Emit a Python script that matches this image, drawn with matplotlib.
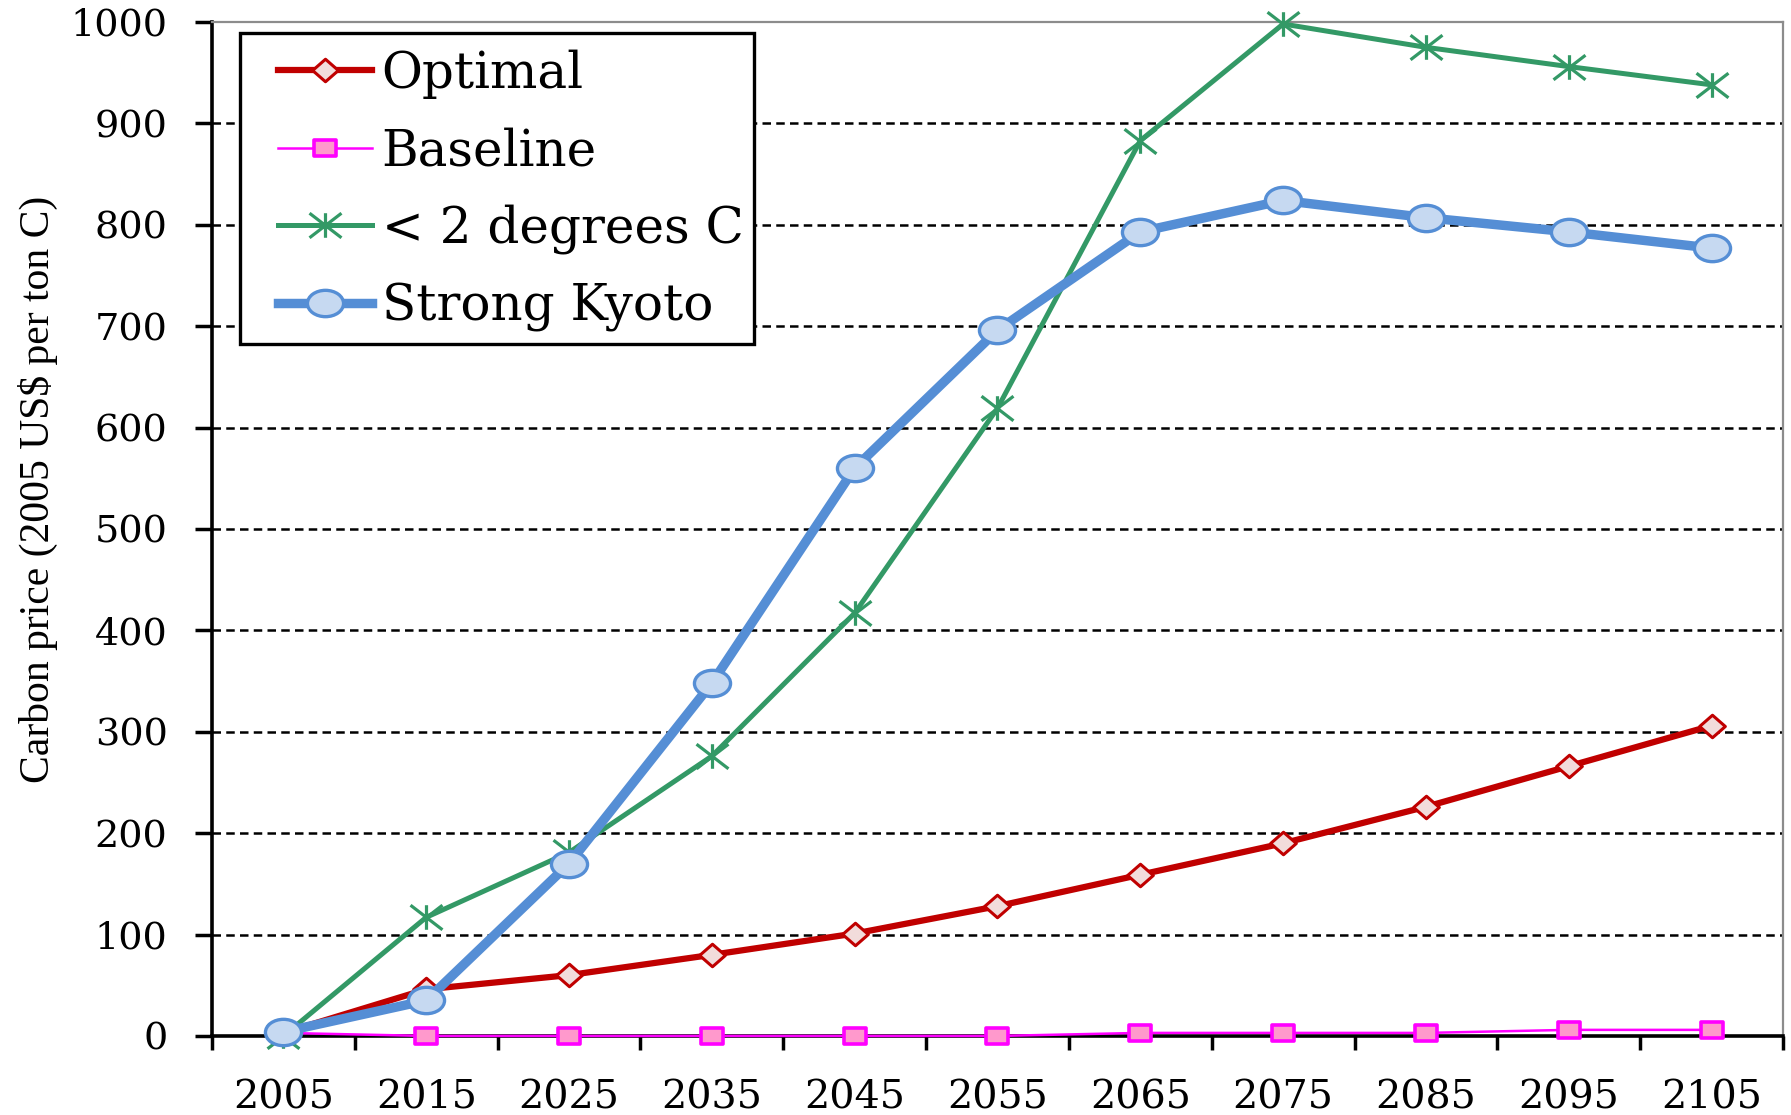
import matplotlib
matplotlib.use("Agg")
import matplotlib.pyplot as plt
import numpy as np
from matplotlib.patches import Rectangle
from matplotlib.path import Path
from matplotlib.transforms import Affine2D

years = ["2005", "2015", "2025", "2035", "2045", "2055",
         "2065", "2075", "2085", "2095", "2105"]
optimal = [3, 46, 60, 80, 101, 128, 159, 190, 226, 266, 306]
baseline = [3, 0, 0, 0, 0, 0, 3, 3, 3, 6, 6]
two_degrees = [0, 117, 181, 276, 417, 619, 883, 998, 975, 956, 938]
strong_kyoto = [4, 35, 170, 348, 560, 696, 793, 824, 807, 793, 777]

y_ticks = list(range(0, 1001, 100))

# the original picture is stretched sideways, so the markers are wider than tall
ellipse = Path.unit_circle().transformed(Affine2D().scale(1.37, 1.0))
diamond = Path([(0, 1), (1.14, 0), (0, -1), (-1.14, 0), (0, 1)],
               [Path.MOVETO, Path.LINETO, Path.LINETO, Path.LINETO, Path.CLOSEPOLY])
rect = Path([(-1.45, -1), (1.45, -1), (1.45, 1), (-1.45, 1), (-1.45, -1)],
            [Path.MOVETO, Path.LINETO, Path.LINETO, Path.LINETO, Path.CLOSEPOLY])
asterisk = Path([(0, -1), (0, 1), (-1.3, -1), (1.3, 1), (-1.3, 1), (1.3, -1)],
                [Path.MOVETO, Path.LINETO] * 3)

plt.rcParams["font.family"] = ["DejaVu Serif"]

fig = plt.figure(figsize=(17.91, 11.15), dpi=100)
ax = fig.add_axes([0.1184, 0.0709, 0.9955 - 0.1184, 0.9803 - 0.0709])

x = np.arange(len(years))

ax.plot(x, optimal, color="#C00000", linewidth=4.5, marker=diamond, markersize=18.5,
        markerfacecolor="#F2DCDB", markeredgecolor="#C00000", markeredgewidth=2.2,
        label="Optimal", clip_on=False, zorder=3)
ax.plot(x, baseline, color="#FF00FF", linewidth=1.8, marker=rect, markersize=16.5,
        markerfacecolor="#FF99CC", markeredgecolor="#FF00FF", markeredgewidth=2.6,
        label="Baseline", clip_on=False, zorder=3)
ax.plot(x, two_degrees, color="#339966", linewidth=3.6, marker=asterisk, markersize=23,
        markerfacecolor="none", markeredgecolor="#339966", markeredgewidth=2.3,
        label="< 2 degrees C", clip_on=False, zorder=4)
ax.plot(x, strong_kyoto, color="#558ED5", linewidth=6.8, marker=ellipse, markersize=26,
        markerfacecolor="#C6D9F1", markeredgecolor="#558ED5", markeredgewidth=2.4,
        label="Strong Kyoto", clip_on=False, zorder=5)

ax.set_xlim(-0.5, len(years) - 0.5)
ax.set_ylim(0, 1000)

ax.set_xticks(x)
ax.set_xticklabels(years, fontsize=28.5)
ax.set_xticks(np.arange(-0.5, len(years), 1.0), minor=True)
ax.tick_params(axis="x", which="major", length=0, pad=31)
ax.tick_params(axis="x", which="minor", length=10, width=2.5, direction="out")

ax.set_yticks(y_ticks)
ax.set_yticklabels([str(v) for v in y_ticks], fontsize=27.5)
ax.tick_params(axis="y", length=12, width=2.5, direction="out", pad=20)

for v in y_ticks[1:-1]:
    ax.axhline(v, color="black", linewidth=1.8, linestyle=(0, (3.4, 2.1)), zorder=1)

for side in ("left", "bottom"):
    ax.spines[side].set_color("black")
    ax.spines[side].set_linewidth(2.6)
for side in ("top", "right"):
    ax.spines[side].set_color("#8C8C8C")
    ax.spines[side].set_linewidth(1.6)

ax.set_ylabel("Carbon price (2005 US$ per ton C)", family=["Liberation Serif"],
              fontsize=30, va="center")
ax.yaxis.set_label_coords(-0.111, 0.539)

# legend box is wider than the matplotlib frame would be, so draw it by hand
ax.add_patch(Rectangle((0.0178, 0.6824), 0.345 - 0.0178, 0.989 - 0.6824,
                       transform=ax.transAxes, facecolor="white", edgecolor="black",
                       linewidth=2.4, zorder=6))
leg = ax.legend(loc="upper left", bbox_to_anchor=(0.042, 0.973), borderaxespad=0,
                fontsize=36, frameon=False, handlelength=1.87, handletextpad=0.2,
                labelspacing=0.56, borderpad=0)
leg.set_zorder(7)

fig.savefig("out.png", dpi=100)
